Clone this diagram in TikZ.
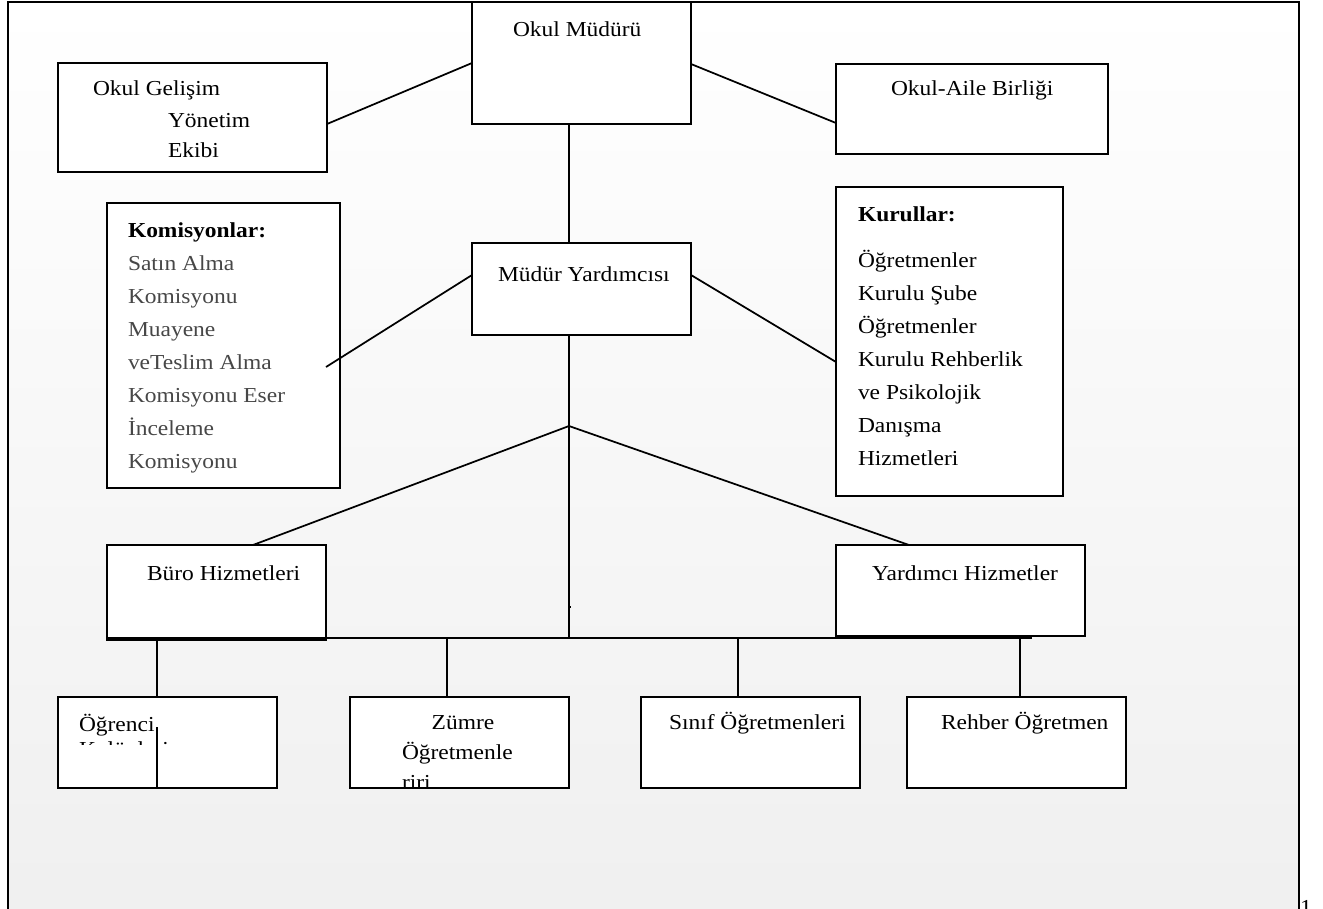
\documentclass[tikz,border=0pt]{standalone}
\usepackage{fontspec}
\setmainfont{Liberation Serif}[FakeStretch=1.1]
\usetikzlibrary{calc}
\tikzset{
  boxst/.style={draw=black, line width=1.5pt, fill=white, rectangle, outer sep=0pt, inner sep=0pt},
  conn/.style={draw=black, line width=1.3pt},
  lbl/.style={inner sep=0pt, outer sep=0pt, anchor=base west, font=\fontsize{16pt}{24pt}\selectfont},
  lblc/.style={lbl, anchor=base},
  gtxt/.style={lbl, text=black!72},
}
\newcommand\pxbox[5]{\node[boxst, anchor=north west, minimum width={(#4-#2)*0.75pt}, minimum height={(#5-#3)*0.75pt}] (#1) at (#2,#3) {};}
\begin{document}
\begin{tikzpicture}[x=0.75pt,y=-0.75pt]
\useasboundingbox (0,0) rectangle (1323,908);
% background and frame
\shade[top color=white, bottom color=black!6] (8,2) rectangle (1299,910);
\draw[line width=1.6pt] (8,915) -- (8,2) -- (1299,2) -- (1299,915);
% boxes
\pxbox{mudur}{472}{2}{691}{124}
\pxbox{gelisim}{58}{63}{327}{172}
\pxbox{aile}{836}{64}{1108}{154}
\pxbox{yard}{472}{243}{691}{335}
\pxbox{komisyon}{107}{203}{340}{488}
\pxbox{kurul}{836}{187}{1063}{496}
\pxbox{buro}{107}{545}{326}{640}
\pxbox{yardhiz}{836}{545}{1085}{636}
\pxbox{ogrenci}{58}{697}{277}{788}
\pxbox{zumre}{350}{697}{569}{788}
\pxbox{sinif}{641}{697}{860}{788}
\pxbox{rehber}{907}{697}{1126}{788}
% helper coordinates
\coordinate (spine) at (569,0);
\coordinate (gy) at (0,124);
\coordinate (ay) at (0,123);
\coordinate (my) at (0,64);
\coordinate (yy) at (0,275);
\coordinate (ky) at (0,362);
\coordinate (kend) at (326,367);
\coordinate (apex) at (569,426);
\coordinate (bx) at (253,0);
\coordinate (hx) at (909,0);
\coordinate (busL) at (107,638);
\coordinate (busR) at (1032,638);
\coordinate (busM) at (569,638);
\coordinate (tick) at (571,607);
\coordinate (d1) at (157,0);
\coordinate (d2) at (447,0);
\coordinate (d3) at (738,0);
\coordinate (d4) at (1020,0);
\coordinate (oin) at (157,727);
% connectors
\draw[conn] (mudur.west) -- (gelisim.east |- gy);
\draw[conn] (mudur.east |- my) -- (aile.west |- ay);
\draw[conn] (mudur.south -| spine) -- (yard.north -| spine);
\draw[conn] (yard.west |- yy) -- (kend);
\draw[conn] (yard.east |- yy) -- (kurul.west |- ky);
\draw[conn] (yard.south -| spine) -- (busM);
\draw[line width=1pt] (apex |- tick) -- (tick);
\draw[conn] (apex) -- (buro.north -| bx);
\draw[conn] (apex) -- (yardhiz.north -| hx);
\draw[conn] (busL) -- (busR);
\draw[conn] (busL -| d1) -- (ogrenci.north -| d1);
\draw[conn] (busL -| d2) -- (zumre.north -| d2);
\draw[conn] (busL -| d3) -- (sinif.north -| d3);
\draw[conn] (busL -| d4) -- (rehber.north -| d4);
\draw[conn] (oin) -- (ogrenci.south -| oin);
% texts
\node[lbl] (t1) at (513,36) {Okul Müdürü};
\node[lbl] (t2) at (93,95) {Okul Gelişim};
\node[lbl] (t3) at (168,127) {Yönetim};
\node[lbl] (t4) at (168,157) {Ekibi};
\node[lbl] (t5) at (891,95) {Okul-Aile Birliği};
\node[lbl] (t6) at (498,281) {Müdür Yardımcısı};
\node[lbl, font=\fontsize{16pt}{24pt}\selectfont\bfseries] (k0) at (128,237) {Komisyonlar:};
\node[gtxt] (k1) at (128,270) {Satın Alma};
\node[gtxt] (k2) at (128,303) {Komisyonu};
\node[gtxt] (k3) at (128,336) {Muayene};
\node[gtxt] (k4) at (128,369) {veTeslim Alma};
\node[gtxt] (k5) at (128,402) {Komisyonu Eser};
\node[gtxt] (k6) at (128,435) {İnceleme};
\node[gtxt] (k7) at (128,468) {Komisyonu};
\node[lbl, font=\fontsize{16pt}{24pt}\selectfont\bfseries] (r0) at (858,221) {Kurullar:};
\node[lbl] (r1) at (858,267) {Öğretmenler};
\node[lbl] (r2) at (858,300) {Kurulu Şube};
\node[lbl] (r3) at (858,333) {Öğretmenler};
\node[lbl] (r4) at (858,366) {Kurulu Rehberlik};
\node[lbl] (r5) at (858,399) {ve Psikolojik};
\node[lbl] (r6) at (858,432) {Danışma};
\node[lbl] (r7) at (858,465) {Hizmetleri};
\node[lbl] (t7) at (147,580) {Büro Hizmetleri};
\node[lbl] (t8) at (872,580) {Yardımcı Hizmetler};
\node[lbl] (t9) at (79,731) {Öğrenci};
\begin{scope}
\clip (58,697) rectangle (277,744);
\node[lbl] (t10) at (79,756) {Kulüpleri};
\end{scope}
\node[lblc] (t11) at (463,729) {Zümre};
\node[lbl] (t12) at (402,759) {Öğretmenle};
\begin{scope}
\clip (350,697) rectangle (569,787);
\node[lbl] (t13) at (402,789) {riri};
\end{scope}
\node[lbl] (t14) at (669,729) {Sınıf Öğretmenleri};
\node[lbl] (t15) at (941,729) {Rehber Öğretmen};
\node[lbl] (t16) at (1300,914) {1};
\end{tikzpicture}
\end{document}
